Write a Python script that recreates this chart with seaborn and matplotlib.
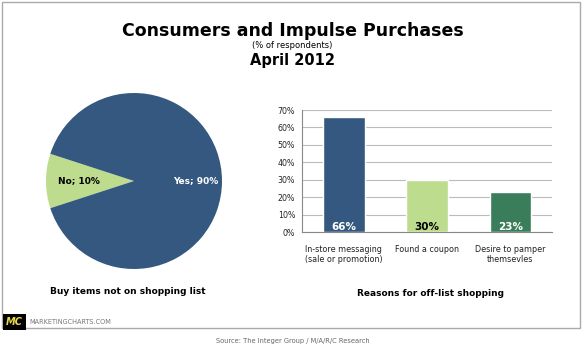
import matplotlib
matplotlib.use('Agg')
import matplotlib.pyplot as plt
import seaborn as sns
import pandas as pd
from matplotlib.patches import Rectangle

# data
pie_labels = ['No', 'Yes']
pie_values = [10, 90]
pie_colors = ['#BEDC8E', '#34587F']

reasons = ['In-store messaging\n(sale or promotion)', 'Found a coupon', 'Desire to pamper\nthemsevles']
reason_values = [66, 30, 23]
bar_colors = ['#34587F', '#BEDC8E', '#3A7D5B']
label_colors = ['white', 'black', 'white']

sns.set_style('white')
plt.rcParams['font.family'] = ['DejaVu Sans']
plt.rcParams['text.color'] = 'black'
plt.rcParams['xtick.color'] = '#888888'
plt.rcParams['ytick.color'] = '#888888'
plt.rcParams['xtick.labelcolor'] = '#222222'
plt.rcParams['ytick.labelcolor'] = '#222222'

fig = plt.figure(figsize=(5.85, 3.53), dpi=100)
W, H = 585, 353

def fx(px):
    return px / W

def fy(py):
    return 1 - py / H

# outer border
fig.patches.append(Rectangle((fx(2), fy(328)), fx(580) - fx(2), fy(2) - fy(328),
                             transform=fig.transFigure, fill=False,
                             edgecolor='#AAAAAA', linewidth=1.0))

# titles
fig.text(0.5, fy(31), 'Consumers and Impulse Purchases', ha='center', va='center',
         fontsize=12.5, fontweight='bold')
fig.text(0.5, fy(46), '(% of respondents)', ha='center', va='center', fontsize=6)
fig.text(0.5, fy(60), 'April 2012', ha='center', va='center', fontsize=10.5, fontweight='bold')

# pie
ax1 = fig.add_axes([fx(46), fy(269), fx(176), 176 / H])
wedges, _ = ax1.pie(pie_values, colors=pie_colors, startangle=162, counterclock=True,
                    wedgeprops=dict(linewidth=0))
ax1.set_xlim(-1, 1)
ax1.set_ylim(-1, 1)
ax1.text(-0.63, 0, f'{pie_labels[0]}; {pie_values[0]}%', ha='center', va='center',
         fontsize=6.5, fontweight='bold', color='black')
ax1.text(0.70, 0, f'{pie_labels[1]}; {pie_values[1]}%', ha='center', va='center',
         fontsize=6.5, fontweight='bold', color='white')
fig.text(fx(128), fy(291), 'Buy items not on shopping list', ha='center', va='center',
         fontsize=6.5, fontweight='bold')

# bars
df = pd.DataFrame({'reason': reasons, 'value': reason_values})
ax2 = fig.add_axes([fx(302), fy(232), fx(552) - fx(302), (232 - 110) / H])
sns.barplot(data=df, x='reason', y='value', hue='reason', palette=bar_colors,
            width=0.5, legend=False, ax=ax2, zorder=3, saturation=1)
ax2.set_ylim(0, 70)
ax2.set_xlim(-0.5, 2.5)
ax2.set_yticks(range(0, 71, 10))
ax2.set_yticklabels([f'{v}%' for v in range(0, 71, 10)], fontsize=5.7)
ax2.set_xticks(range(len(reasons)))
ax2.set_xticklabels(reasons, fontsize=5.8)
ax2.set_xticks([-0.5, 0.5, 1.5, 2.5], minor=True)
ax2.tick_params(axis='x', which='major', length=0, pad=9)
ax2.tick_params(axis='x', which='minor', length=3, direction='out')
ax2.tick_params(axis='y', length=3, direction='out', pad=2)
ax2.yaxis.grid(True, color='#BBBBBB', linewidth=0.8, zorder=0)
ax2.set_axisbelow(True)
ax2.set_xlabel('')
ax2.set_ylabel('')
for side in ['top', 'right']:
    ax2.spines[side].set_visible(False)
for side in ['left', 'bottom']:
    ax2.spines[side].set_color('#888888')
    ax2.spines[side].set_linewidth(0.8)
for i, v in enumerate(reason_values):
    ax2.text(i, 3, f'{v}%', ha='center', va='center', fontsize=7.5,
             fontweight='bold', color=label_colors[i], zorder=4)
fig.text(fx(430), fy(293), 'Reasons for off-list shopping', ha='center', va='center',
         fontsize=6.5, fontweight='bold')

# footer
fig.text(fx(6), fy(322), 'MC', ha='left', va='center', fontsize=7, fontweight='bold',
         fontstyle='italic', color='#E8D84A',
         bbox=dict(boxstyle='square,pad=0.3', facecolor='black', edgecolor='none'))
fig.text(fx(29), fy(322), 'MARKETINGCHARTS.COM', ha='left', va='center', fontsize=4.7,
         color='#777777')
fig.text(0.5, fy(341), 'Source: The Integer Group / M/A/R/C Research', ha='center',
         va='center', fontsize=4.8, color='#666666')

fig.savefig('out.png', dpi=100)
